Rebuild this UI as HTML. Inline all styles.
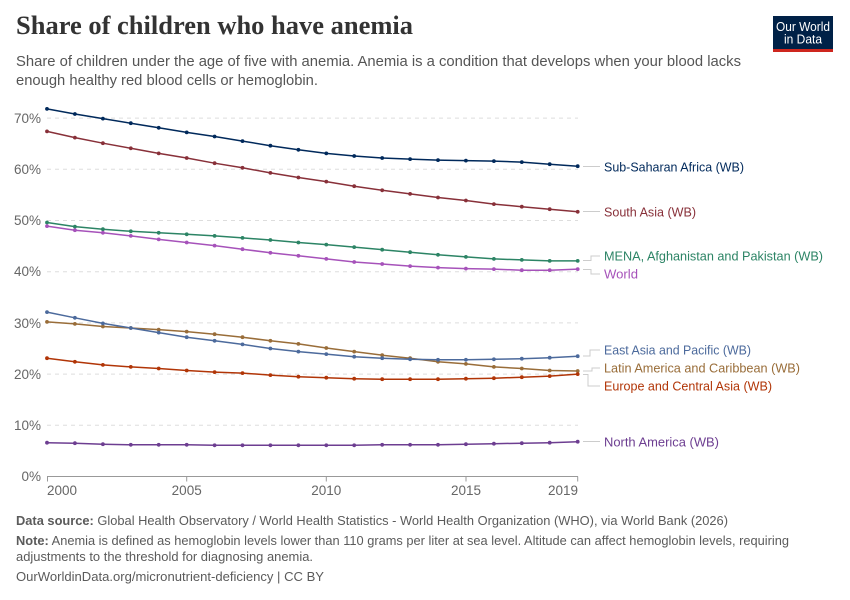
<!DOCTYPE html>
<html>
<head>
<meta charset="utf-8">
<style>
  html,body{margin:0;padding:0;background:#fff;}
  svg{display:block;}
  text{font-family:"Liberation Sans",sans-serif;}
</style>
</head>
<body>
<svg id="chart" width="850" height="600" viewBox="0 0 850 600" xmlns="http://www.w3.org/2000/svg">
  <rect width="850" height="600" fill="#fff"/>
  <!-- Title -->
  <text x="16" y="34" font-size="26" font-weight="bold" fill="#333" textLength="397" lengthAdjust="spacingAndGlyphs" style="font-family:'Liberation Serif',serif">Share of children who have anemia</text>
  <text x="16" y="66" font-size="15" fill="#555" textLength="725" lengthAdjust="spacingAndGlyphs">Share of children under the age of five with anemia. Anemia is a condition that develops when your blood lacks</text>
  <text x="16" y="85" font-size="15" fill="#555" textLength="302" lengthAdjust="spacingAndGlyphs">enough healthy red blood cells or hemoglobin.</text>

  <!-- Logo -->
  <rect x="773" y="16" width="60" height="36" fill="#002147"/>
  <rect x="773" y="49" width="60" height="3" fill="#ce261e"/>
  <text x="803" y="31" font-size="12.5" fill="#fff" text-anchor="middle" textLength="54" lengthAdjust="spacingAndGlyphs">Our World</text>
  <text x="803" y="43.5" font-size="12.5" fill="#fff" text-anchor="middle" textLength="38" lengthAdjust="spacingAndGlyphs">in Data</text>

  <!-- Grid -->
  <g stroke="#dddddd" stroke-width="1" stroke-dasharray="4,4">
    <line x1="47" x2="578" y1="118.1" y2="118.1"/>
    <line x1="47" x2="578" y1="169.3" y2="169.3"/>
    <line x1="47" x2="578" y1="220.5" y2="220.5"/>
    <line x1="47" x2="578" y1="271.7" y2="271.7"/>
    <line x1="47" x2="578" y1="322.9" y2="322.9"/>
    <line x1="47" x2="578" y1="374.1" y2="374.1"/>
    <line x1="47" x2="578" y1="425.3" y2="425.3"/>
  </g>
  <!-- Y labels -->
  <g font-size="13.5" fill="#666" text-anchor="end">
    <text x="41" y="123">70%</text>
    <text x="41" y="174">60%</text>
    <text x="41" y="225">50%</text>
    <text x="41" y="276">40%</text>
    <text x="41" y="328">30%</text>
    <text x="41" y="379">20%</text>
    <text x="41" y="430">10%</text>
    <text x="41" y="481">0%</text>
  </g>
  <!-- X axis -->
  <line x1="47" x2="578" y1="476.5" y2="476.5" stroke="#999" stroke-width="1"/>
  <g stroke="#999" stroke-width="1">
    <line x1="47.5" x2="47.5" y1="476.5" y2="481.5"/>
    <line x1="186.7" x2="186.7" y1="476.5" y2="481.5"/>
    <line x1="326.3" x2="326.3" y1="476.5" y2="481.5"/>
    <line x1="466" x2="466" y1="476.5" y2="481.5"/>
    <line x1="577.7" x2="577.7" y1="476.5" y2="481.5"/>
  </g>
  <g font-size="13.5" fill="#666">
    <text x="47" y="495">2000</text>
    <text x="186.7" y="495" text-anchor="middle">2005</text>
    <text x="326.3" y="495" text-anchor="middle">2010</text>
    <text x="466" y="495" text-anchor="middle">2015</text>
    <text x="578" y="495" text-anchor="end">2019</text>
  </g>

  <!-- Connectors -->
  <g stroke="#cccccc" stroke-width="1" fill="none">
    <polyline points="583,166.5 600,166.5"/>
    <polyline points="583,211.5 600,211.5"/>
    <polyline points="583,260.5 591,260.5 591,256 600,256"/>
    <polyline points="583,269.5 591,269.5 591,274 600,274"/>
    <polyline points="583,356 590,356 590,350 600,350"/>
    <polyline points="583,371 592,371 592,368 600,368"/>
    <polyline points="583,374.5 588,374.5 588,386 600,386"/>
    <polyline points="583,441.5 600,441.5"/>
  </g>
  <!-- Series labels -->
  <g font-size="13" >
    <text x="604" y="171.5" fill="#00295B" textLength="140" lengthAdjust="spacingAndGlyphs">Sub-Saharan Africa (WB)</text>
    <text x="604" y="216.5" fill="#883039" textLength="92" lengthAdjust="spacingAndGlyphs">South Asia (WB)</text>
    <text x="604" y="260.5" fill="#2C8465" textLength="219" lengthAdjust="spacingAndGlyphs">MENA, Afghanistan and Pakistan (WB)</text>
    <text x="604" y="278.5" fill="#A652BA" textLength="34" lengthAdjust="spacingAndGlyphs">World</text>
    <text x="604" y="354.5" fill="#4C6A9C" textLength="147" lengthAdjust="spacingAndGlyphs">East Asia and Pacific (WB)</text>
    <text x="604" y="372.5" fill="#996D39" textLength="196" lengthAdjust="spacingAndGlyphs">Latin America and Caribbean (WB)</text>
    <text x="604" y="390.5" fill="#B13507" textLength="168" lengthAdjust="spacingAndGlyphs">Europe and Central Asia (WB)</text>
    <text x="604" y="446.5" fill="#6D3E91" textLength="115" lengthAdjust="spacingAndGlyphs">North America (WB)</text>
  </g>

  <g id="series"></g>

  <!-- Footer -->
  <text x="16" y="525" font-size="12.5" fill="#5b5b5b" textLength="712" lengthAdjust="spacingAndGlyphs"><tspan font-weight="bold">Data source:</tspan> Global Health Observatory / World Health Statistics - World Health Organization (WHO), via World Bank (2026)</text>
  <text x="16" y="545" font-size="12.5" fill="#5b5b5b" textLength="773" lengthAdjust="spacingAndGlyphs"><tspan font-weight="bold">Note:</tspan> Anemia is defined as hemoglobin levels lower than 110 grams per liter at sea level. Altitude can affect hemoglobin levels, requiring</text>
  <text x="16" y="561" font-size="12.5" fill="#5b5b5b" textLength="297" lengthAdjust="spacingAndGlyphs">adjustments to the threshold for diagnosing anemia.</text>
  <text x="16" y="581" font-size="12.5" fill="#5b5b5b" textLength="308" lengthAdjust="spacingAndGlyphs">OurWorldinData.org/micronutrient-deficiency | CC BY</text>
</svg>
<script>
(function(){
  var data = [
    ["#00295B",[71.8,70.8,69.9,69.0,68.1,67.2,66.4,65.5,64.6,63.8,63.1,62.6,62.2,62.0,61.8,61.7,61.6,61.4,61.0,60.6]],
    ["#883039",[67.4,66.2,65.1,64.1,63.1,62.2,61.2,60.3,59.3,58.4,57.6,56.7,55.9,55.2,54.5,53.9,53.2,52.7,52.2,51.7]],
    ["#2C8465",[49.6,48.8,48.3,47.9,47.6,47.3,47.0,46.6,46.2,45.7,45.3,44.8,44.3,43.8,43.3,42.9,42.5,42.3,42.1,42.1]],
    ["#A652BA",[48.9,48.1,47.6,47.0,46.3,45.7,45.1,44.4,43.7,43.1,42.5,41.9,41.5,41.1,40.8,40.6,40.5,40.3,40.3,40.5]],
    ["#996D39",[30.2,29.8,29.3,29.0,28.7,28.3,27.8,27.2,26.5,25.9,25.1,24.4,23.7,23.1,22.4,22.0,21.4,21.1,20.7,20.6]],
    ["#4C6A9C",[32.1,31.0,29.9,29.0,28.1,27.2,26.5,25.8,25.0,24.4,23.9,23.4,23.1,22.9,22.8,22.8,22.9,23.0,23.2,23.5]],
    ["#B13507",[23.1,22.4,21.8,21.4,21.1,20.7,20.4,20.2,19.8,19.5,19.3,19.1,19.0,19.0,19.0,19.1,19.2,19.4,19.6,20.0]],
    ["#6D3E91",[6.6,6.5,6.3,6.2,6.2,6.2,6.1,6.1,6.1,6.1,6.1,6.1,6.2,6.2,6.2,6.3,6.4,6.5,6.6,6.8]]
  ];
  var ns="http://www.w3.org/2000/svg";
  var g=document.getElementById("series");
  function X(i){return 47+i*27.93;}
  function Y(v){return 476.5-5.12*v;}
  data.forEach(function(s){
    var pts=s[1].map(function(v,i){return X(i).toFixed(1)+","+Y(v).toFixed(1);}).join(" ");
    var pl=document.createElementNS(ns,"polyline");
    pl.setAttribute("points",pts);
    pl.setAttribute("fill","none");
    pl.setAttribute("stroke",s[0]);
    pl.setAttribute("stroke-width","1.5");
    pl.setAttribute("stroke-linejoin","round");
    g.appendChild(pl);
    s[1].forEach(function(v,i){
      var c=document.createElementNS(ns,"circle");
      c.setAttribute("cx",X(i).toFixed(1));
      c.setAttribute("cy",Y(v).toFixed(1));
      c.setAttribute("r","1.9");
      c.setAttribute("fill",s[0]);
      g.appendChild(c);
    });
  });
})();
</script>
</body>
</html>
